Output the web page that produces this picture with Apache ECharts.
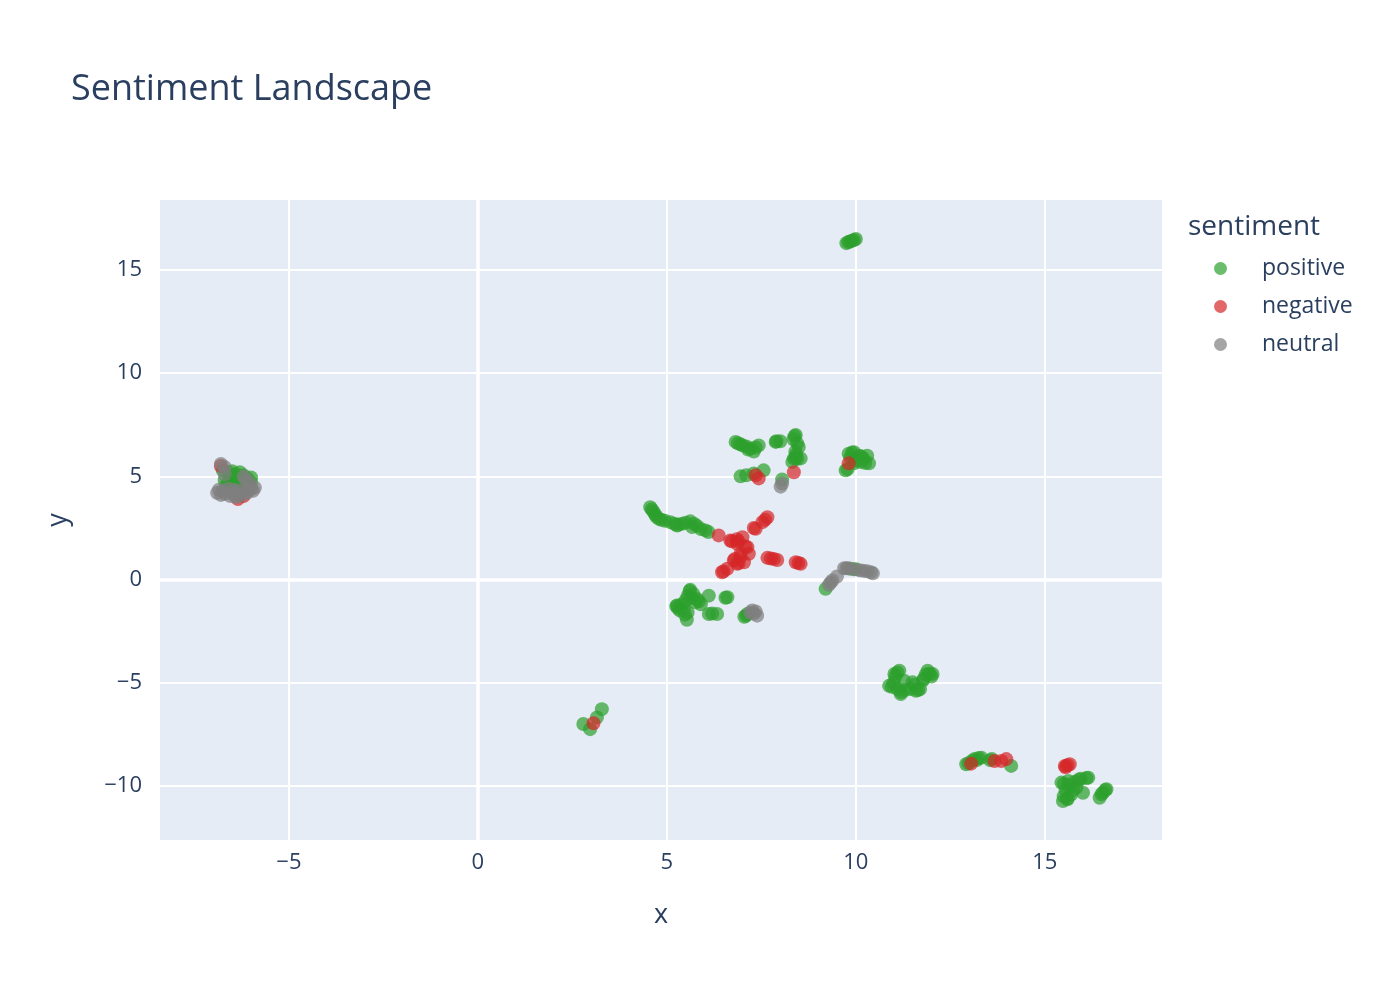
<!DOCTYPE html>
<html>
<head>
<meta charset="utf-8">
<script src="https://cdn.jsdelivr.net/npm/echarts@6/dist/echarts.min.js"></script>
<style>
  html, body { margin: 0; padding: 0; background: #fff; }
  #main { width: 1400px; height: 1000px; }
</style>
</head>
<body>
<div id="main"></div>
<script>
// points, [x, y]
var positive = [
    [-6.75, 5.3], [-6.6, 5.2], [-6.4, 5.1], [-6.2, 5.05], [-6.5, 4.9], [-6.3, 4.8],
    [-6.6, 4.7], [-6.2, 4.6], [-6.0, 4.7], [-6.7, 4.8], [-6.45, 4.5], [-6.1, 4.9],
    [-6.55, 5.0], [-6.35, 4.95], [-6.15, 4.75], [-6.4, 4.65], [-6.55, 4.55], [-6.25, 4.45],
    [-6.05, 4.55], [-6.3, 5.2], [-6.5, 5.25], [-6.65, 4.6], [-6.0, 4.95],
    [9.75, 16.3], [9.8, 16.35], [9.85, 16.38], [9.9, 16.42], [9.95, 16.45], [10.0, 16.5],
    [6.82, 6.67], [6.88, 6.6], [6.95, 6.55], [7.0, 6.5], [7.1, 6.45], [7.15, 6.3],
    [7.21, 6.35], [7.3, 6.2], [7.35, 6.4], [7.43, 6.5],
    [7.88, 6.67], [7.9, 6.7], [8.0, 6.7], [8.35, 6.8], [8.38, 6.95], [8.41, 7.0],
    [8.45, 6.6], [8.49, 6.42], [8.4, 6.2], [8.42, 6.05],
    [8.36, 5.87], [8.4, 5.9], [8.45, 5.85], [8.54, 5.87], [8.32, 5.7],
    [6.95, 5.0], [7.1, 5.05], [7.3, 5.14], [7.56, 5.29], [8.05, 4.85],
    [9.81, 6.1], [9.9, 6.15], [9.95, 6.17], [10.1, 6.0], [10.15, 5.95], [10.3, 6.0],
    [10.13, 5.7], [10.25, 5.65], [10.35, 5.63], [9.73, 5.29], [9.78, 5.35], [9.95, 5.63],
    [10.0, 5.75], [9.85, 5.9], [10.2, 5.85],
    [4.56, 3.5], [4.6, 3.4], [4.64, 3.3], [4.69, 3.15], [4.72, 3.05], [4.78, 2.95],
    [4.85, 2.9], [4.95, 2.85], [5.09, 2.78], [5.2, 2.7], [5.27, 2.62], [5.3, 2.65],
    [5.4, 2.7], [5.5, 2.75], [5.62, 2.82], [5.67, 2.54], [5.72, 2.7], [5.8, 2.6],
    [5.9, 2.45], [6.02, 2.38], [6.1, 2.3],
    [5.62, -0.5], [5.6, -0.55], [5.7, -0.7], [5.55, -0.8], [5.65, -0.9], [5.27, -1.26],
    [5.25, -1.3], [5.3, -1.4], [5.4, -1.2], [5.45, -1.42], [5.48, -1.7], [5.55, -1.6],
    [5.53, -1.95], [5.8, -0.94], [5.75, -1.1], [5.85, -1.05], [5.5, -1.0], [5.35, -1.5],
    [6.11, -0.78], [6.11, -1.67], [6.2, -1.65], [6.33, -1.67], [6.6, -0.86], [6.55, -0.88],
    [7.13, -1.67], [7.05, -1.8], [7.1, -1.75], [5.9, -1.2],
    [9.2, -0.45], [9.86, 0.52], [10.0, 0.5],
    [11.02, -4.58], [11.05, -4.7], [11.1, -4.5], [11.15, -4.42], [10.88, -5.15], [10.95, -5.2],
    [11.0, -5.0], [11.19, -5.55], [11.2, -5.45], [11.3, -5.35], [11.45, -5.3], [11.59, -5.39],
    [11.55, -5.1], [11.65, -5.35], [11.77, -4.9], [11.8, -4.8], [12.03, -4.58], [12.0, -4.7],
    [11.95, -4.55], [11.85, -4.6], [11.9, -4.42], [11.5, -4.98], [11.28, -4.9], [11.7, -5.3], [11.1, -5.3],
    [12.92, -8.95], [12.98, -8.9], [13.08, -8.78], [13.14, -8.7], [13.25, -8.65], [13.32, -8.63],
    [13.2, -8.75], [13.55, -8.75], [13.6, -8.7], [14.11, -9.03],
    [15.44, -9.84], [15.5, -9.9], [15.62, -9.76], [15.65, -9.95], [15.8, -9.8], [15.84, -10.08],
    [15.75, -10.2], [15.95, -9.65], [16.1, -9.62], [16.15, -9.6], [15.48, -10.73], [15.5, -10.5],
    [16.01, -10.33], [16.54, -10.33], [16.5, -10.4], [16.6, -10.2], [16.63, -10.16], [16.45, -10.57],
    [15.7, -10.4], [15.55, -10.2], [15.9, -9.7], [15.6, -10.6], [15.6, -10.65],
    [3.28, -6.28], [3.15, -6.68], [2.79, -7.0], [2.97, -7.25]
];
var negative = [
    [-6.8, 5.5], [-6.35, 3.9], [-6.2, 4.05],
    [7.43, 4.9], [7.35, 5.05], [8.36, 5.2], [9.81, 5.63],
    [6.37, 2.14], [6.68, 1.89], [6.72, 1.85], [6.85, 1.95], [6.9, 1.85], [7.0, 2.05],
    [6.86, 1.73], [7.08, 1.6], [7.13, 1.57], [7.17, 1.25], [6.95, 1.25], [6.95, 1.1],
    [6.77, 0.92], [6.8, 1.0], [6.86, 0.76], [6.9, 0.8], [6.46, 0.35], [6.5, 0.4],
    [6.6, 0.52], [7.04, 0.84], [7.3, 2.5], [7.35, 2.46], [7.53, 2.78], [7.6, 2.9],
    [7.66, 3.02], [7.66, 1.05], [7.75, 1.02], [7.83, 1.0], [7.92, 0.95],
    [8.41, 0.84], [8.48, 0.8], [8.54, 0.76],
    [13.05, -8.92], [13.67, -8.79], [13.85, -8.79], [13.98, -8.7],
    [15.53, -9.03], [15.55, -9.1], [15.6, -9.0], [15.66, -8.95],
    [3.06, -6.96]
];
var neutral = [
    [-6.8, 5.6], [-6.7, 5.45], [-6.7, 5.1], [-6.2, 5.0], [-6.15, 4.85], [-6.05, 4.7],
    [-6.9, 4.2], [-6.8, 4.1], [-6.7, 4.15], [-6.5, 4.2], [-6.45, 4.1], [-6.55, 4.05],
    [-6.3, 4.3], [-6.3, 4.05], [-6.1, 4.35], [-6.1, 4.2], [-5.95, 4.3], [-5.9, 4.45],
    [-6.6, 4.4], [-6.45, 4.35], [-6.2, 4.15], [-6.4, 4.0], [-6.75, 4.3], [-6.85, 4.35], [-6.0, 4.4],
    [8.01, 4.5], [8.05, 4.65],
    [9.38, -0.05], [9.33, -0.15], [9.29, -0.25], [9.5, 0.15], [9.69, 0.55], [9.75, 0.55],
    [9.8, 0.55], [9.95, 0.5], [10.1, 0.45], [10.2, 0.42], [10.3, 0.4], [10.4, 0.35], [10.45, 0.3],
    [7.21, -1.6], [7.26, -1.5], [7.3, -1.65], [7.35, -1.55], [7.39, -1.75]
];
var xTicks = [-5, 0, 5, 10, 15];
var yTicks = [-10, -5, 0, 5, 10, 15];

var textColor = '#2a3f5f';
var font = '"Open Sans", verdana, arial, sans-serif';

function minus(v) {
    return String(v).replace('-', '\u2212');
}

var myChart = echarts.init(document.getElementById('main'));

var option = {
    backgroundColor: '#fff',
    textStyle: { fontFamily: font },
    title: [{
        text: 'Sentiment Landscape',
        left: 66,
        top: 67,
        textStyle: { color: textColor, fontSize: 36, fontWeight: 'normal', fontFamily: font }
    }, {
        text: 'sentiment',
        left: 1183,
        top: 208,
        textStyle: { color: textColor, fontSize: 28, fontWeight: 'normal', fontFamily: font }
    }],
    legend: {
        orient: 'vertical',
        left: 1209,
        top: 252,
        itemWidth: 13,
        itemHeight: 13,
        itemGap: 15,
        icon: 'circle',
        data: ['positive', 'negative', 'neutral'],
        textStyle: { color: textColor, fontSize: 23, fontFamily: font, padding: [0, 0, 0, 30] }
    },
    grid: {
        left: 160,
        top: 200,
        width: 1002,
        height: 640,
        show: true,
        backgroundColor: '#E5ECF6',
        borderWidth: 0
    },
    xAxis: {
        type: 'value',
        min: -8.41,
        max: 18.1,
        name: 'x',
        nameLocation: 'middle',
        nameGap: 62,
        nameTextStyle: { color: textColor, fontSize: 27, fontFamily: font },
        axisLine: { show: false },
        axisTick: { show: false, customValues: xTicks },
        axisLabel: {
            customValues: xTicks,
            color: textColor,
            fontSize: 22,
            margin: 12,
            formatter: minus
        },
        splitLine: { show: true, lineStyle: { color: '#fff', width: 2 } }
    },
    yAxis: {
        type: 'value',
        min: -12.62,
        max: 18.39,
        name: 'y',
        nameLocation: 'middle',
        nameGap: 88,
        nameTextStyle: { color: textColor, fontSize: 27, fontFamily: font },
        axisLine: { show: false },
        axisTick: { show: false, customValues: yTicks },
        axisLabel: {
            customValues: yTicks,
            color: textColor,
            fontSize: 22,
            margin: 18,
            formatter: minus
        },
        splitLine: { show: true, lineStyle: { color: '#fff', width: 2 } }
    },
    series: [{
        name: 'positive',
        type: 'scatter',
        data: positive,
        symbolSize: 14,
        itemStyle: { color: '#2ca02c', opacity: 0.7 },
        markLine: {
            silent: true,
            symbol: 'none',
            label: { show: false },
            lineStyle: { color: '#fff', width: 3.5, type: 'solid' },
            data: [{ xAxis: 0 }, { yAxis: 0 }],
            z: 1
        }
    }, {
        name: 'negative',
        type: 'scatter',
        data: negative,
        symbolSize: 14,
        itemStyle: { color: '#d62728', opacity: 0.7 }
    }, {
        name: 'neutral',
        type: 'scatter',
        data: neutral,
        symbolSize: 14,
        itemStyle: { color: '#7f7f7f', opacity: 0.7 }
    }]
};

myChart.setOption(option);
window.addEventListener('resize', function () {
    myChart.resize();
});
</script>
</body>
</html>
